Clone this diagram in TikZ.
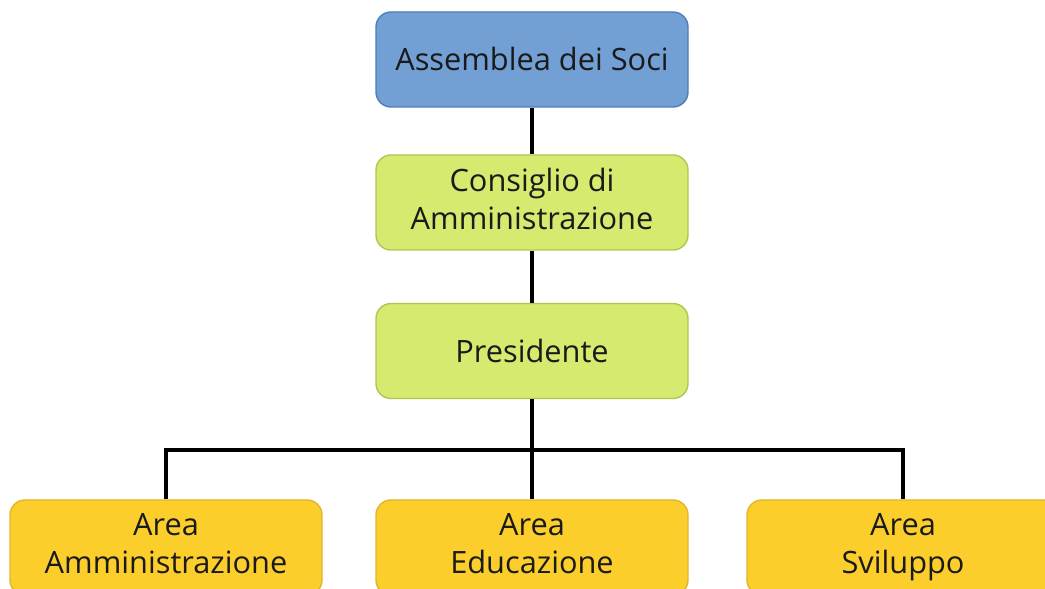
\documentclass[tikz,border=0pt]{standalone}
\usepackage{fontspec}
\setmainfont{Open Sans}
\usepackage{xcolor}
\usepackage{tikz}
\usetikzlibrary{positioning}
\definecolor{bluefill}{HTML}{729FD4}
\definecolor{blueline}{HTML}{4F7DB8}
\definecolor{greenfill}{HTML}{D5EA6E}
\definecolor{greenline}{HTML}{A9C952}
\definecolor{yellowfill}{HTML}{FCCE2C}
\definecolor{yellowline}{HTML}{E2B52A}
\definecolor{ink}{HTML}{1A1A1A}
\tikzset{
  box/.style={rounded corners=0.3cm, line width=0.8pt, minimum width=6.24cm,
    minimum height=1.9cm, align=center, text=ink,
    font=\fontsize{17.5}{21.5}\selectfont,
    execute at begin node=\vphantom{Ap}\rule{0pt}{17pt},
    execute at end node=\vphantom{Ap}},
  top/.style={box, fill=bluefill, draw=blueline},
  board/.style={box, fill=greenfill, draw=greenline},
  area/.style={box, fill=yellowfill, draw=yellowline},
  conn/.style={draw=black, line width=2.3pt},
}

\begin{document}
\begin{tikzpicture}
  \useasboundingbox (0,0) rectangle (20.9,11.78);

  \node[top]   (soci) at (10.64,10.59) {Assemblea dei Soci};
  \node[board] (cda)  at (10.64,7.73)  {Consiglio di\\Amministrazione};
  \node[board] (pres) at (10.64,4.76)  {Presidente};

  \node[area] (amm) at (3.32,0.83)  {Area\\Amministrazione};
  \node[area] (edu) at (10.64,0.83) {Area\\Educazione};
  \node[area] (svi) at (18.06,0.83) {Area\\Sviluppo};

  \coordinate (bus) at (10.64,2.78);

  \draw[conn] (soci) -- (cda);
  \draw[conn] (cda) -- (pres);
  \draw[conn] (pres) -- (edu);
  \draw[conn] (amm.north) -- (amm.north |- bus) -- (svi.north |- bus) -- (svi.north);
\end{tikzpicture}
\end{document}
